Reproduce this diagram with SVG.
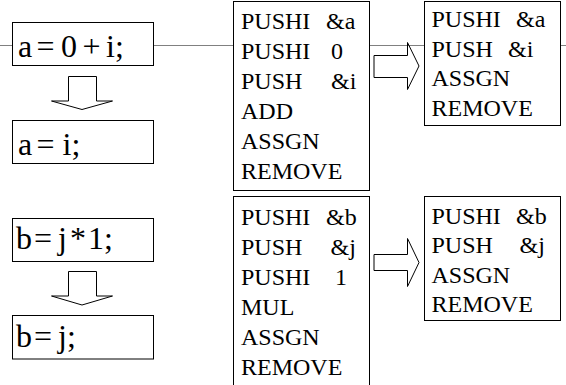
<svg xmlns="http://www.w3.org/2000/svg" width="566" height="385" viewBox="0 0 566 385">
  <style>
    .box { fill: #ffffff; stroke: #000000; stroke-width: 1; }
    .code { font-family: 'Liberation Serif', 'Times New Roman', serif; font-size: 24px; fill: #000000; }
    .expr { font-family: 'Liberation Serif', 'Times New Roman', serif; font-size: 32px; fill: #000000; }
    .bus { stroke: #808080; stroke-width: 1.2; fill: none; }
    .blk { fill: none; stroke: #000000; stroke-width: 1; stroke-linejoin: miter; }
  </style>
  <rect width="566" height="385" fill="#ffffff"/>

  <!-- connectors: gray bus line and block arrows -->
  <g id="connectors">
    <line class="bus" x1="0" y1="45.5" x2="566" y2="45.5"/>
    <polygon class="blk" points="68.5,76.5 96.5,76.5 96.5,101 112.5,101 82,109.5 51.5,101 68.5,101"/>
    <polygon class="blk" points="68.5,271.5 96.5,271.5 96.5,296 112.5,296 82,305 51.5,296 68.5,296"/>
    <polygon class="blk" points="374,55.5 407.5,55.5 407.5,42.5 419,66 407.5,89.5 407.5,77.5 374,77.5"/>
    <polygon class="blk" points="374,254.5 407.5,254.5 407.5,238.5 419,262.5 407.5,286.5 407.5,270.5 374,270.5"/>
  </g>

  <!-- source statements -->
  <g id="stmt-a">
    <rect class="box" x="12.5" y="22.5" width="141" height="43"/>
    <text class="expr" y="56.5"><tspan x="18">a</tspan><tspan x="36.5">=</tspan><tspan x="61">0</tspan><tspan x="82.5">+</tspan><tspan x="106">i;</tspan></text>
  </g>
  <g id="stmt-a-opt">
    <rect class="box" x="12.5" y="120.5" width="141" height="43"/>
    <text class="expr" y="154.5"><tspan x="18">a</tspan><tspan x="36.5">=</tspan><tspan x="62.5">i;</tspan></text>
  </g>
  <g id="stmt-b">
    <rect class="box" x="12.5" y="218.5" width="141" height="43"/>
    <text class="expr" y="248.5"><tspan x="16">b</tspan><tspan x="34">=</tspan><tspan x="58">j</tspan><tspan x="70">*</tspan><tspan x="88">1</tspan><tspan x="104">;</tspan></text>
  </g>
  <g id="stmt-b-opt">
    <rect class="box" x="12.5" y="315.5" width="141" height="43.5"/>
    <text class="expr" y="346.5"><tspan x="16">b</tspan><tspan x="34">=</tspan><tspan x="58">j</tspan><tspan x="67">;</tspan></text>
  </g>

  <!-- generated code, before optimisation -->
  <g id="code-a">
    <rect class="box" x="233.5" y="1.5" width="136" height="189"/>
    <text class="code">
      <tspan x="241" y="29">PUSHI</tspan><tspan x="326" y="29">&amp;a</tspan>
      <tspan x="241" y="59">PUSHI</tspan><tspan x="331" y="59">0</tspan>
      <tspan x="241" y="89">PUSH</tspan><tspan x="331" y="89">&amp;i</tspan>
      <tspan x="241" y="119">ADD</tspan>
      <tspan x="241" y="149">ASSGN</tspan>
      <tspan x="241" y="179">REMOVE</tspan>
    </text>
  </g>
  <g id="code-b">
    <rect class="box" x="233.5" y="196.5" width="136" height="200"/>
    <text class="code">
      <tspan x="241" y="225">PUSHI</tspan><tspan x="326" y="225">&amp;b</tspan>
      <tspan x="241" y="255">PUSH</tspan><tspan x="330.5" y="255">&amp;j</tspan>
      <tspan x="241" y="285">PUSHI</tspan><tspan x="335" y="285">1</tspan>
      <tspan x="241" y="315">MUL</tspan>
      <tspan x="241" y="345">ASSGN</tspan>
      <tspan x="241" y="375">REMOVE</tspan>
    </text>
  </g>

  <!-- generated code, after optimisation -->
  <g id="code-a-opt">
    <rect class="box" x="424.5" y="1.5" width="136" height="124"/>
    <text class="code">
      <tspan x="431.5" y="27">PUSHI</tspan><tspan x="516" y="27">&amp;a</tspan>
      <tspan x="431.5" y="56.5">PUSH</tspan><tspan x="508" y="56.5">&amp;i</tspan>
      <tspan x="431.5" y="86">ASSGN</tspan>
      <tspan x="431.5" y="115.5">REMOVE</tspan>
    </text>
  </g>
  <g id="code-b-opt">
    <rect class="box" x="424.5" y="196.5" width="136" height="124"/>
    <text class="code">
      <tspan x="431.5" y="223.5">PUSHI</tspan><tspan x="516" y="223.5">&amp;b</tspan>
      <tspan x="431.5" y="253">PUSH</tspan><tspan x="519.5" y="253">&amp;j</tspan>
      <tspan x="431.5" y="282.5">ASSGN</tspan>
      <tspan x="431.5" y="312">REMOVE</tspan>
    </text>
  </g>
</svg>
